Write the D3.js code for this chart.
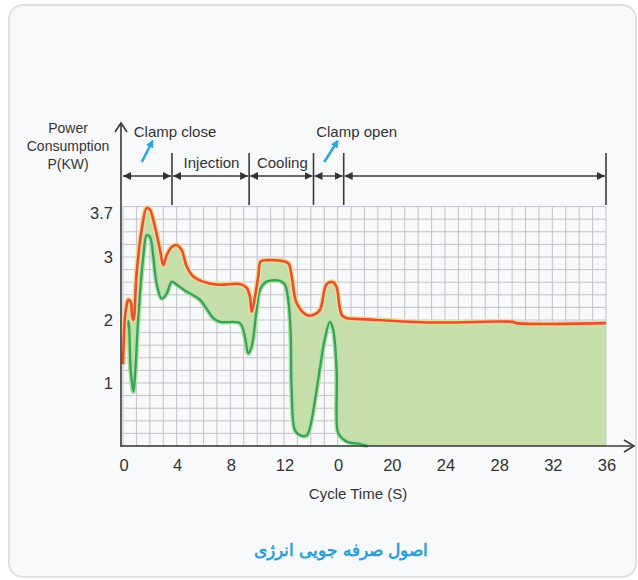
<!DOCTYPE html>
<html lang="en">
<head>
	<meta charset="UTF-8">
	<title>Power Consumption</title>
	<script src="https://cdn.jsdelivr.net/npm/d3@7"></script>
	<style>
		body { margin: 0; background: #fff; }
		text { font-family: "Liberation Sans", Arial, sans-serif; fill: #333; }
	</style>
</head>
<body>
<div id="chart"></div>
<script>

// upper (red) curve, time in s and power in kW
const redTime  = [0, 0.15, 0.28, 0.39, 0.57, 0.69, 0.78, 1.02, 1.39, 1.77, 2.01, 2.38, 2.76, 3.0, 3.26, 3.63, 4.0, 4.37, 4.75, 5.24, 6.24, 7.23, 8.72, 9.22, 9.46, 9.59, 9.84, 10.08, 10.26, 10.71, 11.7, 12.32, 12.57, 12.94, 13.69, 14.18, 14.68, 15.18, 15.67, 15.92, 16.3, 16.67, 18.16, 23.1, 29.06, 29.34, 36];
const redPower = [1.3, 2.05, 2.24, 2.32, 2.29, 2.05, 2.0, 2.75, 3.43, 3.78, 3.75, 3.48, 3.11, 2.87, 3.03, 3.16, 3.19, 3.11, 2.85, 2.69, 2.59, 2.56, 2.57, 2.51, 2.37, 2.13, 2.37, 2.69, 2.93, 2.95, 2.94, 2.9, 2.69, 2.27, 2.08, 2.08, 2.16, 2.57, 2.6, 2.52, 2.08, 2.03, 2.01, 1.96, 1.97, 1.95, 1.95];

// lower (green) curve
const greenTime  = [0, 0.2, 0.39, 0.57, 0.77, 0.89, 1.14, 1.51, 1.77, 2.01, 2.26, 2.51, 2.88, 3.26, 3.63, 4.0, 4.75, 5.74, 6.73, 7.23, 8.72, 9.09, 9.34, 9.59, 9.96, 10.21, 10.71, 11.7, 12.07, 12.32, 12.5, 12.57, 12.82, 13.2, 13.69, 13.93, 14.31, 14.68, 15.05, 15.42, 15.67, 15.92, 15.98, 16.17, 16.67, 17.66, 18.26];
const greenPower = [1.3, 1.85, 1.98, 1.21, 0.86, 1.1, 2.05, 3.0, 3.35, 3.32, 3.0, 2.58, 2.34, 2.42, 2.61, 2.56, 2.45, 2.32, 2.03, 1.97, 1.95, 1.73, 1.47, 1.58, 2.16, 2.48, 2.61, 2.62, 2.56, 2.32, 1.79, 0.89, 0.25, 0.17, 0.17, 0.29, 0.73, 1.24, 1.71, 1.97, 1.84, 1.21, 0.25, 0.16, 0.07, 0.03, 0];

const xTicks = [0, 4, 8, 12, 16, 20, 24, 28, 32, 36];
const xTickLabels = ['0', '4', '8', '12', '0', '20', '24', '28', '32', '36'];
const yTicks = [1, 2, 3, 3.7];

// phase boundaries along the top (s)
const phaseBounds = [0, 3.65, 9.4, 14.2, 16.45, 36];
const phaseNames = ['', 'Injection', 'Cooling', '', ''];

const W = 638, H = 580;

const svg = d3.select('#chart').append('svg')
	.attr('width', W)
	.attr('height', H);

// card
svg.append('rect')
	.attr('x', 9).attr('y', 5)
	.attr('width', 627).attr('height', 572)
	.attr('rx', 14)
	.attr('fill', '#f8f9fb')
	.attr('stroke', '#dde0e4')
	.attr('stroke-width', 2);

const x = d3.scaleLinear().domain([0, 36]).range([123, 606]);
const y = d3.scaleLinear().domain([0, 1]).range([446, 383]);

const defs = svg.append('defs');
defs.append('marker')
	.attr('id', 'head')
	.attr('viewBox', '0 0 10 10')
	.attr('refX', 10).attr('refY', 5)
	.attr('markerWidth', 8).attr('markerHeight', 8)
	.attr('markerUnits', 'userSpaceOnUse')
	.attr('orient', 'auto-start-reverse')
	.append('path')
	.attr('d', 'M0,0L10,5L0,10Z')
	.attr('fill', '#333');
defs.append('marker')
	.attr('id', 'bluehead')
	.attr('viewBox', '0 0 10 10')
	.attr('refX', 8).attr('refY', 5)
	.attr('markerWidth', 8).attr('markerHeight', 8)
	.attr('markerUnits', 'userSpaceOnUse')
	.attr('orient', 'auto')
	.append('path')
	.attr('d', 'M0,0L10,5L0,10Z')
	.attr('fill', '#2aa7de');

// grid
const grid = svg.append('g').attr('stroke', '#c1c3ca').attr('stroke-width', 1);
grid.selectAll('.v').data(d3.range(0, 37))
	.join('line')
	.attr('x1', d => x(d)).attr('x2', d => x(d))
	.attr('y1', y(3.8)).attr('y2', y(0));
grid.selectAll('.h').data(d3.range(0, 20).map(d => d * 0.2))
	.join('line')
	.attr('x1', x(0)).attr('x2', x(36))
	.attr('y1', d => y(d)).attr('y2', d => y(d));

// band between curves
const upper = redTime.map((t, i) => [t, redPower[i]]);
const lower = greenTime.map((t, i) => [t, greenPower[i]]).concat([[36, 0]]);
const poly = upper.concat(lower.slice().reverse());

const line = d3.line().x(d => x(d[0])).y(d => y(d[1])).curve(d3.curveCatmullRom.alpha(0.5));
const polyLine = d3.line().x(d => x(d[0])).y(d => y(d[1])).curve(d3.curveLinearClosed);

svg.append('path')
	.attr('d', polyLine(poly))
	.attr('fill', '#c6dea9');

const greenPts = greenTime.map((t, i) => [t, greenPower[i]]);
svg.append('path').attr('d', line(greenPts))
	.attr('fill', 'none').attr('stroke', '#b5dea0').attr('stroke-width', 5);
svg.append('path').attr('d', line(greenPts))
	.attr('fill', 'none').attr('stroke', '#32a45a').attr('stroke-width', 2.3);

svg.append('path').attr('d', line(upper))
	.attr('fill', 'none').attr('stroke', '#f1d99a').attr('stroke-width', 5.5);
svg.append('path').attr('d', line(upper))
	.attr('fill', 'none').attr('stroke', '#e4512c').attr('stroke-width', 2.6);

// axes
const axisColor = '#3a3a3a';
svg.append('line')
	.attr('x1', 121).attr('x2', 121)
	.attr('y1', 447).attr('y2', 123)
	.attr('stroke', axisColor).attr('stroke-width', 1.6);
svg.append('path')
	.attr('d', 'M115,132L121,123L127,132')
	.attr('fill', 'none').attr('stroke', axisColor).attr('stroke-width', 1.6);
svg.append('line')
	.attr('x1', 121).attr('x2', 634)
	.attr('y1', 446).attr('y2', 446)
	.attr('stroke', axisColor).attr('stroke-width', 1.6);
svg.append('path')
	.attr('d', 'M624,440L634,446L624,452')
	.attr('fill', 'none').attr('stroke', axisColor).attr('stroke-width', 1.6);

svg.selectAll('.xt').data(xTicks)
	.join('text')
	.attr('x', d => x(d) + 1)
	.attr('y', 471)
	.attr('text-anchor', 'middle')
	.attr('font-size', 16.5)
	.text((d, i) => xTickLabels[i]);

svg.selectAll('.yt').data(yTicks)
	.join('text')
	.attr('x', 113)
	.attr('y', d => y(d) + 6)
	.attr('text-anchor', 'end')
	.attr('font-size', 16.5)
	.text(d => d);

svg.append('text')
	.attr('x', 358).attr('y', 499)
	.attr('text-anchor', 'middle')
	.attr('font-size', 15)
	.text('Cycle Time (S)');

const yTitle = ['Power', 'Consumption', 'P(KW)'];
svg.selectAll('.ytitle').data(yTitle)
	.join('text')
	.attr('x', 68)
	.attr('y', (d, i) => 133 + i * 18)
	.attr('text-anchor', 'middle')
	.attr('font-size', 14)
	.text(d => d);

// phase markers
const phaseG = svg.append('g');
phaseG.selectAll('line').data(phaseBounds.slice(1))
	.join('line')
	.attr('x1', d => x(d)).attr('x2', d => x(d))
	.attr('y1', 153).attr('y2', 205)
	.attr('stroke', axisColor).attr('stroke-width', 1.6);

const segs = d3.pairs(phaseBounds);
phaseG.selectAll('.arr').data(segs)
	.join('line')
	.attr('x1', (d, i) => (i === 0 ? 122 : x(d[0])) + 1)
	.attr('x2', d => x(d[1]) - 1)
	.attr('y1', 176).attr('y2', 176)
	.attr('stroke', axisColor).attr('stroke-width', 1.4)
	.attr('marker-start', 'url(#head)')
	.attr('marker-end', 'url(#head)');

phaseG.selectAll('.pn').data(segs)
	.join('text')
	.attr('x', d => (x(d[0]) + x(d[1])) / 2 + 1)
	.attr('y', 168)
	.attr('text-anchor', 'middle')
	.attr('font-size', 15)
	.text((d, i) => phaseNames[i]);

// clamp callouts
const callouts = [
	{label: 'Clamp close', t: 0.8, from: 1.4, to: 2.2},
	{label: 'Clamp open', t: 14.4, from: 15.0, to: 16.0}
];
svg.selectAll('.cl').data(callouts)
	.join('text')
	.attr('x', d => x(d.t))
	.attr('y', 137)
	.attr('font-size', 15)
	.text(d => d.label);
svg.selectAll('.ca').data(callouts)
	.join('line')
	.attr('x1', d => x(d.from)).attr('y1', 162)
	.attr('x2', d => x(d.to)).attr('y2', 141)
	.attr('stroke', '#2aa7de').attr('stroke-width', 2.6)
	.attr('marker-end', 'url(#bluehead)');

// caption
svg.append('text')
	.attr('x', 341).attr('y', 556)
	.attr('text-anchor', 'middle')
	.attr('font-family', '"DejaVu Sans", sans-serif')
	.attr('font-weight', 'bold')
	.attr('font-size', 17)
	.style('fill', '#2a9fd8')
	.attr('direction', 'rtl')
	.text('اصول صرفه جویی انرژی');

</script>
</body>
</html>
